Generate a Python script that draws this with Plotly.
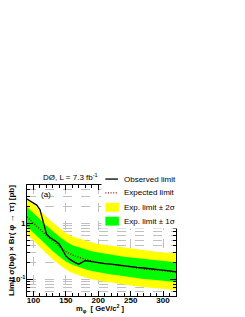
import plotly.graph_objects as go
import math

# ---- data ----
mass = [90, 100, 110, 120, 130, 140, 150, 160, 170, 180, 190, 200,
        210, 220, 230, 240, 250, 260, 270, 280, 290, 300, 310, 320]
expected = [1.30, 1.02, 0.78, 0.60, 0.47, 0.38, 0.31, 0.27, 0.245, 0.225, 0.21, 0.198,
            0.19, 0.182, 0.175, 0.168, 0.162, 0.157, 0.152, 0.148, 0.144, 0.140, 0.137, 0.134]
up1 = [1.95, 1.53, 1.17, 0.90, 0.71, 0.57, 0.47, 0.405, 0.37, 0.34, 0.315, 0.30,
       0.285, 0.273, 0.263, 0.252, 0.243, 0.236, 0.228, 0.222, 0.216, 0.21, 0.205, 0.20]
lo1 = [0.87, 0.68, 0.52, 0.40, 0.315, 0.255, 0.207, 0.18, 0.163, 0.15, 0.14, 0.132,
       0.127, 0.121, 0.117, 0.112, 0.108, 0.105, 0.101, 0.099, 0.096, 0.093, 0.091, 0.089]
up2 = [2.8, 2.2, 1.68, 1.29, 1.01, 0.82, 0.67, 0.58, 0.53, 0.485, 0.45, 0.425,
       0.41, 0.39, 0.375, 0.36, 0.35, 0.34, 0.327, 0.318, 0.31, 0.30, 0.295, 0.29]
lo2 = [0.62, 0.49, 0.37, 0.285, 0.225, 0.18, 0.148, 0.129, 0.117, 0.107, 0.1, 0.094,
       0.09, 0.087, 0.083, 0.08, 0.077, 0.075, 0.072, 0.07, 0.069, 0.067, 0.065, 0.064]

obs_mass = [90, 95, 100, 105, 110, 115, 120, 125, 130, 135, 140, 145, 150, 155, 160,
            165, 170, 175, 180, 190, 200, 210, 220, 230, 240, 250, 260, 270, 280,
            290, 300, 310, 320]
observed = [2.7, 2.5, 2.3, 2.1, 1.75, 1.05, 0.64, 0.56, 0.52, 0.47, 0.42, 0.33, 0.26,
            0.23, 0.21, 0.195, 0.185, 0.2, 0.215, 0.205, 0.195, 0.19, 0.185, 0.178,
            0.172, 0.165, 0.162, 0.158, 0.155, 0.15, 0.145, 0.14, 0.135]

x_ticks = [100, 150, 200, 250, 300]
y_ticks = [0.1, 1]
y_ticktext = ["10<sup>-1</sup>", "1"]
y_minor = [0.05, 0.06, 0.07, 0.08, 0.09, 0.2, 0.3, 0.4, 0.5, 0.6, 0.7, 0.8, 0.9, 2, 3, 4]

legend_labels = ["Observed limit", "Expected limit", "Exp. limit \u00b1 2\u03c3", "Exp. limit \u00b1 1\u03c3"]

FONT = "Liberation Sans"
YELLOW = "#FFFF00"
GREEN = "#00FF00"
RED = "#990000"
DOT = "1px,1.6px"

fig = go.Figure()
fig.add_trace(go.Scatter(x=mass, y=lo2, mode="lines", line=dict(width=0), showlegend=False, hoverinfo="skip"))
fig.add_trace(go.Scatter(x=mass, y=up2, mode="lines", line=dict(width=0), fill="tonexty",
                         fillcolor=YELLOW, showlegend=False, hoverinfo="skip"))
fig.add_trace(go.Scatter(x=mass, y=lo1, mode="lines", line=dict(width=0), showlegend=False, hoverinfo="skip"))
fig.add_trace(go.Scatter(x=mass, y=up1, mode="lines", line=dict(width=0), fill="tonexty",
                         fillcolor=GREEN, showlegend=False, hoverinfo="skip"))
fig.add_trace(go.Scatter(x=mass, y=expected, mode="lines", line=dict(color=RED, width=1.3, dash=DOT),
                         showlegend=False))
fig.add_trace(go.Scatter(x=obs_mass, y=observed, mode="lines", line=dict(color="black", width=1.3),
                         showlegend=False))

# plot area in px
L, R, T, B = 22, 176, 185, 297
W, H = R - L, B - T
def px(x):
    return (x - L) / W
def py(y):
    return (B - y) / H

fig.update_layout(
    width=245, height=317,
    margin=dict(l=L, r=245 - R, t=T, b=317 - B),
    paper_bgcolor="white", plot_bgcolor="white",
    font=dict(family=FONT, color="black"),
    showlegend=False,
)
fig.update_xaxes(
    range=[90, 320], showline=True, linecolor="black", linewidth=1, mirror="allticks",
    ticks="inside", ticklen=5, tickcolor="black", tickvals=x_ticks, ticklabelstandoff=-4,
    tickfont=dict(size=8, family=FONT, weight=700),
    showgrid=True, gridcolor="#c0c0c0", griddash="dash", gridwidth=0.6, zeroline=False,
    minor=dict(dtick=10, ticks="inside", ticklen=3, tickcolor="black", showgrid=False),
)
fig.update_yaxes(
    type="log", range=[math.log10(0.05), math.log10(4.8)],
    showline=True, linecolor="black", linewidth=1, mirror="allticks",
    ticks="inside", ticklen=6, tickcolor="black", tickvals=y_ticks, ticktext=y_ticktext,
    tickfont=dict(size=8, family=FONT, weight=700), ticklabelstandoff=-1,
    showgrid=True, gridcolor="#c0c0c0", griddash="dash", gridwidth=0.6, zeroline=False,
    minor=dict(tickmode="array", tickvals=y_minor, ticks="inside", ticklen=3, tickcolor="black",
               showgrid=True, gridcolor="#c0c0c0", griddash="dash", gridwidth=0.6),
)

shapes = []
annotations = []
# legend box (white, covering the frame corner)
shapes.append(dict(type="rect", xref="paper", yref="paper", x0=px(99), x1=px(178), y0=py(229), y1=py(171),
                   fillcolor="white", line=dict(width=0), layer="above"))
# legend symbols
shapes.append(dict(type="line", xref="paper", yref="paper", x0=px(103), x1=px(116), y0=py(179), y1=py(179),
                   line=dict(color="black", width=1.3), layer="above"))
shapes.append(dict(type="line", xref="paper", yref="paper", x0=px(103), x1=px(116), y0=py(193), y1=py(193),
                   line=dict(color=RED, width=1.3, dash=DOT), layer="above"))
shapes.append(dict(type="rect", xref="paper", yref="paper", x0=px(103), x1=px(117), y0=py(212), y1=py(203),
                   fillcolor=YELLOW, line=dict(width=0), layer="above"))
shapes.append(dict(type="rect", xref="paper", yref="paper", x0=px(103), x1=px(117), y0=py(226), y1=py(217),
                   fillcolor=GREEN, line=dict(width=0), layer="above"))
for lab, yy in zip(legend_labels, [179, 193, 207.5, 221.5]):
    annotations.append(dict(text=lab, xref="paper", yref="paper", x=px(120), y=py(yy),
                            xanchor="left", yanchor="middle", showarrow=False,
                            font=dict(size=8, family=FONT)))

annotations.append(dict(text="D\u00d8, L = 7.3 fb<sup>-1</sup>", xref="paper", yref="paper",
                        x=px(67), y=py(177), xanchor="center", yanchor="middle", showarrow=False,
                        font=dict(size=8, family=FONT)))
annotations.append(dict(text="(a)", xref="paper", yref="paper", x=px(42), y=py(195),
                        xanchor="center", yanchor="middle", showarrow=False,
                        font=dict(size=8, family=FONT)))
annotations.append(dict(text="Limit \u03c3(b\u03c6) \u00d7 Br( \u03c6 \u2192 \u03c4\u03c4) [pb]",
                        xref="paper", yref="paper", x=px(6), y=py(241), textangle=-90,
                        xanchor="center", yanchor="middle", showarrow=False,
                        font=dict(size=8, family=FONT, weight=700)))
annotations.append(dict(text="m<sub>\u03c6</sub>  [ GeV/c<sup>2</sup> ]", xref="paper", yref="paper",
                        x=px(97), y=py(309.5), xanchor="center", yanchor="middle", showarrow=False,
                        font=dict(size=7.5, family=FONT, weight=700)))

fig.update_layout(shapes=shapes, annotations=annotations)
# remove the browser's default 8px page margin so the figure sits at the window's origin
fig.write_html("out.html", config={"displayModeBar": False},
               post_script="document.body.style.margin='0';document.body.style.overflow='hidden';")
